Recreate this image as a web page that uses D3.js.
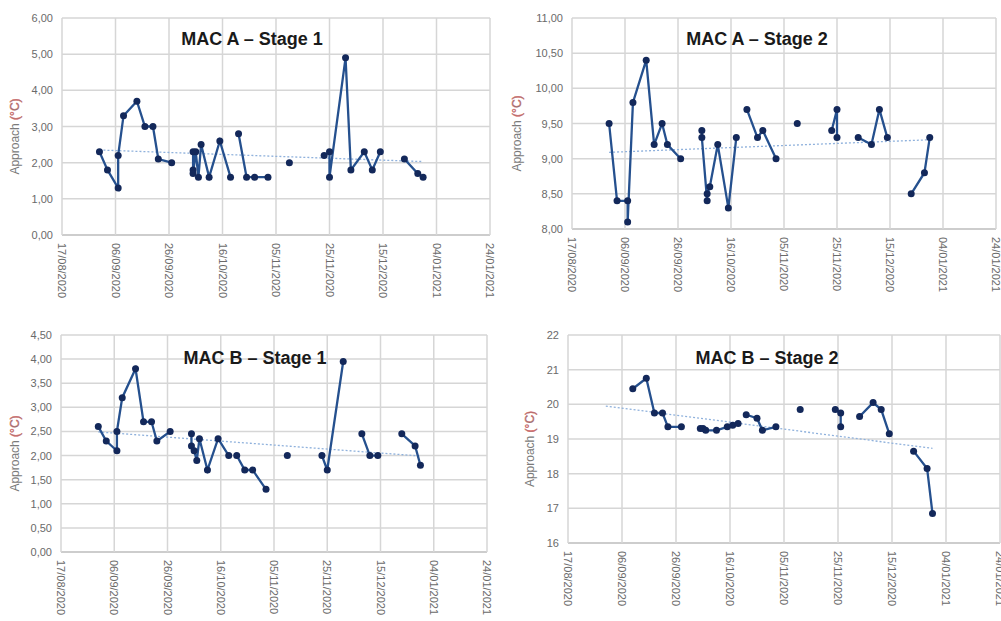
<!DOCTYPE html>
<html lang="en">
<head>
<meta charset="utf-8">
<title>MAC approach</title>
<script src="https://d3js.org/d3.v7.min.js"></script>
<style>
  body { margin: 0; background: #fff; }
  svg { display: block; font-family: "Liberation Sans", Arial, sans-serif; }
</style>
</head>
<body>
<div id="chart"></div>
<script>
// x axis ticks (every 20 days)
var tickDates = ["2020-08-17","2020-09-06","2020-09-26","2020-10-16","2020-11-05",
                 "2020-11-25","2020-12-15","2021-01-04","2021-01-24"];

// MAC A - Stage 1 (null = break in the line)
var a1Dates = ["2020-08-31","2020-09-03","2020-09-07","2020-09-07","2020-09-09","2020-09-14","2020-09-17","2020-09-20","2020-09-22","2020-09-27",null,
               "2020-10-05","2020-10-05","2020-10-05","2020-10-06","2020-10-07","2020-10-08","2020-10-11","2020-10-15","2020-10-19",null,
               "2020-10-22","2020-10-25","2020-10-28","2020-11-02",null,"2020-11-10",null,
               "2020-11-23","2020-11-25","2020-11-25","2020-12-01","2020-12-03","2020-12-08","2020-12-11","2020-12-14",null,
               "2020-12-23","2020-12-28","2020-12-30"];
var a1Values = [2.3,1.8,1.3,2.2,3.3,3.7,3.0,3.0,2.1,2.0,null,
                2.3,1.8,1.7,2.3,1.6,2.5,1.6,2.6,1.6,null,
                2.8,1.6,1.6,1.6,null,2.0,null,
                2.2,2.3,1.6,4.9,1.8,2.3,1.8,2.3,null,
                2.1,1.7,1.6];
var a1Trend = [["2020-08-31",2.35],["2020-12-30",2.03]];

// MAC A - Stage 2
var a2Dates = ["2020-08-31","2020-09-03","2020-09-07","2020-09-07","2020-09-09","2020-09-14","2020-09-17","2020-09-20","2020-09-22","2020-09-27",null,
               "2020-10-05","2020-10-05","2020-10-07","2020-10-07","2020-10-08","2020-10-11","2020-10-15","2020-10-18",null,
               "2020-10-22","2020-10-26","2020-10-28","2020-11-02",null,"2020-11-10",null,
               "2020-11-23","2020-11-25","2020-11-25",null,
               "2020-12-03","2020-12-08","2020-12-11","2020-12-14",null,
               "2020-12-23","2020-12-28","2020-12-30"];
var a2Values = [9.5,8.4,8.4,8.1,9.8,10.4,9.2,9.5,9.2,9.0,null,
                9.4,9.3,8.4,8.5,8.6,9.2,8.3,9.3,null,
                9.7,9.3,9.4,9.0,null,9.5,null,
                9.4,9.7,9.3,null,
                9.3,9.2,9.7,9.3,null,
                8.5,8.8,9.3];
var a2Trend = [["2020-08-31",9.09],["2020-12-31",9.27]];

// MAC B - Stage 1
var b1Dates = ["2020-08-31","2020-09-03","2020-09-07","2020-09-07","2020-09-09","2020-09-14","2020-09-17","2020-09-20","2020-09-22","2020-09-27",null,
               "2020-10-05","2020-10-05","2020-10-06","2020-10-07","2020-10-08","2020-10-11","2020-10-15","2020-10-19",null,
               "2020-10-22","2020-10-25","2020-10-28","2020-11-02",null,"2020-11-10",null,
               "2020-11-23","2020-11-25","2020-12-01",null,
               "2020-12-08","2020-12-11","2020-12-14",null,
               "2020-12-23","2020-12-28","2020-12-30"];
var b1Values = [2.6,2.3,2.1,2.5,3.2,3.8,2.7,2.7,2.3,2.5,null,
                2.45,2.2,2.1,1.9,2.35,1.7,2.35,2.0,null,
                2.0,1.7,1.7,1.3,null,2.0,null,
                2.0,1.7,3.95,null,
                2.45,2.0,2.0,null,
                2.45,2.2,1.8];
var b1Trend = [["2020-08-31",2.49],["2020-12-30",1.99]];

// MAC B - Stage 2
var b2Dates = ["2020-09-10","2020-09-15","2020-09-18","2020-09-21","2020-09-23","2020-09-28",null,
               "2020-10-05","2020-10-06","2020-10-07","2020-10-11","2020-10-15","2020-10-17","2020-10-19",null,
               "2020-10-22","2020-10-26","2020-10-28","2020-11-02",null,"2020-11-11",null,
               "2020-11-24","2020-11-26","2020-11-26",null,
               "2020-12-03","2020-12-08","2020-12-11","2020-12-14",null,
               "2020-12-23","2020-12-28","2020-12-30"];
var b2Values = [20.45,20.75,19.75,19.75,19.35,19.35,null,
                19.3,19.3,19.25,19.25,19.35,19.4,19.45,null,
                19.7,19.6,19.25,19.35,null,19.85,null,
                19.85,19.75,19.35,null,
                19.65,20.05,19.85,19.15,null,
                18.65,18.15,16.85];
var b2Trend = [["2020-08-31",19.95],["2020-12-30",18.73]];

var parse = d3.timeParse("%Y-%m-%d"),
    fmtDate = d3.timeFormat("%d/%m/%Y"),
    comma2 = function(d){ return d3.format(".2f")(d).replace(".", ","); },
    int0 = d3.format("d");

var panels = [
  {title: "MAC A \u2013 Stage 1", dates: a1Dates, values: a1Values, trend: a1Trend,
   left: 62, right: 490, top: 18, bottom: 235, yMin: 0, yMax: 6, yStep: 1, fmt: comma2,
   titleX: 252, titleY: 45, axisTitleX: 15},
  {title: "MAC A \u2013 Stage 2", dates: a2Dates, values: a2Values, trend: a2Trend,
   left: 572, right: 996, top: 18, bottom: 229, yMin: 8, yMax: 11, yStep: 0.5, fmt: comma2,
   titleX: 757, titleY: 45, axisTitleX: 517},
  {title: "MAC B \u2013 Stage 1", dates: b1Dates, values: b1Values, trend: b1Trend,
   left: 61, right: 487, top: 335, bottom: 552, yMin: 0, yMax: 4.5, yStep: 0.5, fmt: comma2,
   titleX: 255, titleY: 364, axisTitleX: 15},
  {title: "MAC B \u2013 Stage 2", dates: b2Dates, values: b2Values, trend: b2Trend,
   left: 568, right: 1000, top: 335, bottom: 543, yMin: 16, yMax: 22, yStep: 1, fmt: int0,
   titleX: 767, titleY: 364, axisTitleX: 530}
];

var svg = d3.select("#chart").append("svg")
    .attr("width", 1001)
    .attr("height", 621);

var xTicks = tickDates.map(parse);

panels.forEach(function(p){
  var x = d3.scaleTime()
      .domain([xTicks[0], xTicks[xTicks.length - 1]])
      .range([p.left, p.right]);
  var y = d3.scaleLinear()
      .domain([p.yMin, p.yMax])
      .range([p.bottom, p.top]);
  var yTicks = d3.range(p.yMin, p.yMax + p.yStep / 2, p.yStep);

  var g = svg.append("g");

  // grid
  g.selectAll(".hgrid").data(yTicks).enter().append("line")
    .attr("x1", p.left).attr("x2", p.right)
    .attr("y1", function(d){ return y(d); }).attr("y2", function(d){ return y(d); })
    .style("stroke", function(d, i){ return i == 0 ? "#bcbcbc" : "#d6d6d6"; })
    .style("stroke-width", 1.5);
  g.selectAll(".vgrid").data(xTicks).enter().append("line")
    .attr("x1", function(d){ return x(d); }).attr("x2", function(d){ return x(d); })
    .attr("y1", p.top).attr("y2", p.bottom)
    .style("stroke", "#d6d6d6")
    .style("stroke-width", 1.5);

  // y axis labels
  var yAxis = d3.axisLeft(y).tickValues(yTicks).tickFormat(p.fmt).tickSize(0).tickPadding(9);
  var ya = g.append("g").attr("transform", "translate(" + p.left + ",0)").call(yAxis);
  ya.select(".domain").remove();
  ya.selectAll("text").style("fill", "#6a6a6a").style("font-size", "11px");

  // x axis labels, rotated
  g.selectAll(".xlab").data(xTicks).enter().append("text")
    .attr("transform", function(d){ return "translate(" + x(d) + "," + (p.bottom + 8) + ") rotate(90)"; })
    .attr("dy", "0.35em")
    .style("font-size", "11px")
    .style("fill", "#6a6a6a")
    .text(function(d){ return fmtDate(d); });

  // axis title
  var at = g.append("text")
    .attr("transform", "translate(" + p.axisTitleX + "," + ((p.top + p.bottom) / 2 + 10) + ") rotate(-90)")
    .attr("text-anchor", "middle")
    .attr("dy", "0.35em")
    .style("font-size", "12px")
    .style("fill", "#7a7a7a");
  at.append("tspan").text("Approach ");
  at.append("tspan").text("(\u00b0C)")
    .style("stroke", "#e06060").style("stroke-width", 0.4);

  // trend line
  var trendLine = d3.line()
      .x(function(d){ return x(parse(d[0])); })
      .y(function(d){ return y(d[1]); });
  g.append("path")
    .datum(p.trend)
    .attr("d", trendLine)
    .style("fill", "none")
    .style("stroke", "#8fb1dc")
    .style("stroke-width", 1.3)
    .style("stroke-dasharray", "2,2");

  // data
  var pts = p.dates.map(function(d, i){ return {date: d ? parse(d) : null, value: p.values[i]}; });
  var line = d3.line()
      .defined(function(d){ return d.value !== null; })
      .x(function(d){ return x(d.date); })
      .y(function(d){ return y(d.value); });
  g.append("path")
    .datum(pts)
    .attr("d", line)
    .style("fill", "none")
    .style("stroke", "#25508e")
    .style("stroke-width", 2.3);
  g.selectAll(".dot").data(pts.filter(function(d){ return d.value !== null; }))
    .enter().append("circle")
    .attr("cx", function(d){ return x(d.date); })
    .attr("cy", function(d){ return y(d.value); })
    .attr("r", 3.5)
    .style("fill", "#13285a");

  // title
  g.append("text")
    .attr("x", p.titleX)
    .attr("y", p.titleY)
    .attr("text-anchor", "middle")
    .style("font-size", "18px")
    .style("font-weight", "bold")
    .style("fill", "#1a1a1a")
    .text(p.title);
});
</script>
</body>
</html>
